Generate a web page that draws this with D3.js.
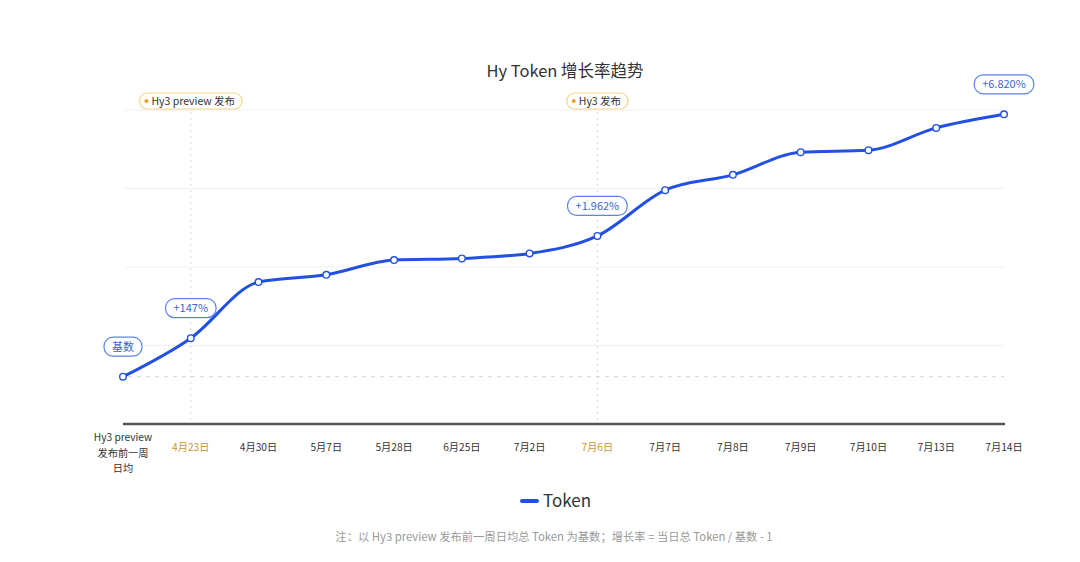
<!DOCTYPE html>
<html>
<head>
<meta charset="utf-8">
<script src="https://cdn.jsdelivr.net/npm/d3@7"></script>
<style>
  body { margin: 0; background: #fff; }
  svg { font-family: "Noto Sans CJK SC", "Noto Sans", sans-serif; }
</style>
</head>
<body>
<div id="chart"></div>
<script>
// categories (x axis)
const dates = ["base", "4月23日", "4月30日", "5月7日", "5月28日", "6月25日", "7月2日",
  "7月6日", "7月7日", "7月8日", "7月9日", "7月10日", "7月13日", "7月14日"];
const firstLabel = ["Hy3 preview", "发布前一周", "日均"];
// growth rate vs base, %
const growth = [0, 147, 887, 1029, 1347, 1386, 1506, 1962, 3447, 4035, 4993, 5082, 6131, 6820];
// annotated points
const valueLabels = [
  { i: 0, text: "基数" },
  { i: 1, text: "+147%" },
  { i: 7, text: "+1.962%" },
  { i: 13, text: "+6.820%" },
];
const events = [
  { date: "4月23日", text: "Hy3 preview 发布" },
  { date: "7月6日", text: "Hy3 发布" },
];
const highlighted = ["4月23日", "7月6日"];

const width = 1080, height = 562;
const plotTop = 110, plotBottom = 424;
const blue = "#2250e0";
const gold = "#c9952c";

const svg = d3.select("#chart").append("svg")
  .attr("width", width).attr("height", height);

const x = d3.scalePoint().domain(dates).range([123, 1004]);
// sqrt scale of growth, baseline sits above the axis
const y = d3.scaleSqrt().domain([0, 6820]).range([376.7, 114.3]);
const grid = d3.scaleLinear().domain([0, 4]).range([plotBottom, plotTop]);

// title
svg.append("text")
  .attr("x", 565).attr("y", 77)
  .attr("text-anchor", "middle")
  .attr("font-size", 16.5).attr("font-weight", 400).attr("fill", "#333")
  .text("Hy Token 增长率趋势");

// gridlines
svg.append("g").selectAll("line")
  .data([1, 2, 3, 4]).join("line")
  .attr("x1", 125).attr("x2", 1004)
  .attr("y1", d => grid(d)).attr("y2", d => grid(d))
  .attr("stroke", "#f0f0f0").attr("stroke-width", 1);

// base dashed line
svg.append("line")
  .attr("x1", 128).attr("x2", 1004)
  .attr("y1", y(0)).attr("y2", y(0))
  .attr("stroke", "#dcdcdc").attr("stroke-width", 1.2)
  .attr("stroke-dasharray", "4,5");

// event markers
const ev = svg.append("g").selectAll("g").data(events).join("g")
  .attr("transform", d => `translate(${x(d.date)},0)`);
ev.append("line")
  .attr("y1", 112).attr("y2", plotBottom)
  .attr("stroke", "#d8d8d8").attr("stroke-width", 1)
  .attr("stroke-dasharray", "2,4");
ev.each(function (d) {
  const g = d3.select(this);
  const t = g.append("text")
    .attr("y", 101).attr("dy", "0.35em")
    .attr("font-size", 10.5).attr("fill", "#333")
    .text(d.text);
  const w = t.node().getComputedTextLength() + 19;
  t.attr("x", -w / 2 + 12);
  g.insert("rect", "text")
    .attr("x", -w / 2).attr("y", 93).attr("width", w).attr("height", 16)
    .attr("rx", 8).attr("fill", "#fff")
    .attr("stroke", "#f2d48a").attr("stroke-width", 1.2);
  g.insert("circle", "text")
    .attr("cx", -w / 2 + 7).attr("cy", 101).attr("r", 2)
    .attr("fill", "#f0a020");
});

// axis line
svg.append("line")
  .attr("x1", 123).attr("x2", 1005)
  .attr("y1", plotBottom).attr("y2", plotBottom)
  .attr("stroke", "#555").attr("stroke-width", 2.5);

// x labels
const xl = svg.append("g").attr("font-size", 10.2);
dates.forEach((d, i) => {
  if (i === 0) {
    xl.append("text")
      .attr("x", x(d)).attr("text-anchor", "middle").attr("fill", "#333")
      .selectAll("tspan").data(firstLabel).join("tspan")
      .attr("x", x(d)).attr("y", (t, j) => 441 + j * 15.5)
      .text(t => t);
  } else {
    xl.append("text")
      .attr("x", x(d)).attr("y", 451)
      .attr("text-anchor", "middle")
      .attr("fill", highlighted.includes(d) ? gold : "#333")
      .text(d);
  }
});

// line
const line = d3.line()
  .x((d, i) => x(dates[i]))
  .y(d => y(d))
  .curve(d3.curveMonotoneX);

svg.append("path")
  .datum(growth)
  .attr("d", line)
  .attr("fill", "none")
  .attr("stroke", blue).attr("stroke-width", 3)
  .attr("stroke-linejoin", "round");

svg.append("g").selectAll("circle")
  .data(growth).join("circle")
  .attr("cx", (d, i) => x(dates[i])).attr("cy", d => y(d))
  .attr("r", 3.3)
  .attr("fill", "#fff").attr("stroke", blue).attr("stroke-width", 1.4);

// value labels
const vl = svg.append("g").selectAll("g").data(valueLabels).join("g")
  .attr("transform", d => `translate(${x(dates[d.i])},${y(growth[d.i]) - 30})`);
vl.each(function (d) {
  const g = d3.select(this);
  const t = g.append("text")
    .attr("text-anchor", "middle").attr("dy", "0.35em")
    .attr("font-size", 11).attr("fill", "#3a66d6")
    .text(d.text);
  const w = t.node().getComputedTextLength() + 16;
  g.insert("rect", "text")
    .attr("x", -w / 2).attr("y", -9.5).attr("width", w).attr("height", 19)
    .attr("rx", 9).attr("fill", "#fff")
    .attr("stroke", "#5a84e8").attr("stroke-width", 1.2);
});

// legend
const lg = svg.append("g").attr("transform", "translate(522,501)");
lg.append("line")
  .attr("x1", 0).attr("x2", 15)
  .attr("stroke", blue).attr("stroke-width", 4).attr("stroke-linecap", "round");
lg.append("text")
  .attr("x", 21).attr("dy", "0.35em")
  .attr("font-size", 17).attr("fill", "#333")
  .text("Token");

// note
svg.append("text")
  .attr("x", 554).attr("y", 541)
  .attr("text-anchor", "middle")
  .attr("font-size", 11.3).attr("fill", "#999")
  .text("注：以 Hy3 preview 发布前一周日均总 Token 为基数；增长率 = 当日总 Token / 基数 - 1");
</script>
</body>
</html>
